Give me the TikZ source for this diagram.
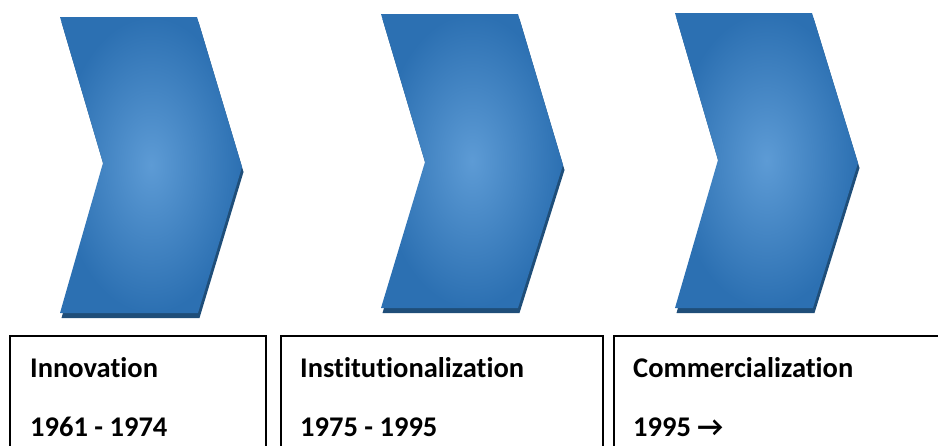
\documentclass[tikz,border=0pt]{standalone}
\usepackage{fontspec}
\setmainfont[Ligatures={NoCommon}]{Carlito}
\begin{document}
\begin{tikzpicture}[x=1pt,y=-1pt,
  chev/.style={shading=radial, inner color=chevlight, outer color=chevdark},
  chevshadow/.style={fill=chevshade},
  box/.style={draw=black, line width=1.7pt, rectangle, anchor=north west, inner sep=0pt},
  lbl/.style={anchor=base west, inner sep=0pt, font=\fontsize{28.5}{30}\selectfont\bfseries, text=black}]
\definecolor{chevlight}{RGB}{93,155,213}
\definecolor{chevdark}{RGB}{44,112,178}
\definecolor{chevshade}{RGB}{31,78,121}
\useasboundingbox (0,0) rectangle (938,445);
\clip (0,0) rectangle (938,445);
% chevron 1
\fill[chevshadow] (61.5,22) -- (198.5,22) -- (243.5,172) -- (199.5,318) -- (61.5,318) -- (104.5,168) -- cycle;
\path[chev] (60,17) -- (197,17) -- (242,167) -- (198,313) -- (60,313) -- (103,163) -- cycle;
% chevron 2
\fill[chevshadow] (382.5,19) -- (519.5,19) -- (564.5,170) -- (519.5,313) -- (382.5,313) -- (426.5,167) -- cycle;
\path[chev] (381,14) -- (518,14) -- (563,165) -- (518,308) -- (381,308) -- (425,162) -- cycle;
% chevron 3
\fill[chevshadow] (676.5,18) -- (813.5,18) -- (859.5,168) -- (814.5,313) -- (676.5,313) -- (719.5,165) -- cycle;
\path[chev] (675,13) -- (812,13) -- (858,163) -- (813,308) -- (675,308) -- (718,160) -- cycle;
% boxes
\node[box, minimum width=256pt, minimum height=140pt] (b1) at (9,335) {};
\node[box, minimum width=322pt, minimum height=140pt] (b2) at (280,335) {};
\node[box, minimum width=360pt, minimum height=140pt] (b3) at (613,335) {};
% labels
\node[lbl] (t1) at (30,377) {Innovation};
\node[lbl] (d1) at (30,436) {1961 - 1974};
\node[lbl] (t2) at (300,377) {Institutionalization};
\node[lbl] (d2) at (300,436) {1975 - 1995};
\node[lbl] (t3) at (633,377) {Commercialization};
\node[lbl] (d3) at (633,436) {1995 →};
\end{tikzpicture}
\end{document}
